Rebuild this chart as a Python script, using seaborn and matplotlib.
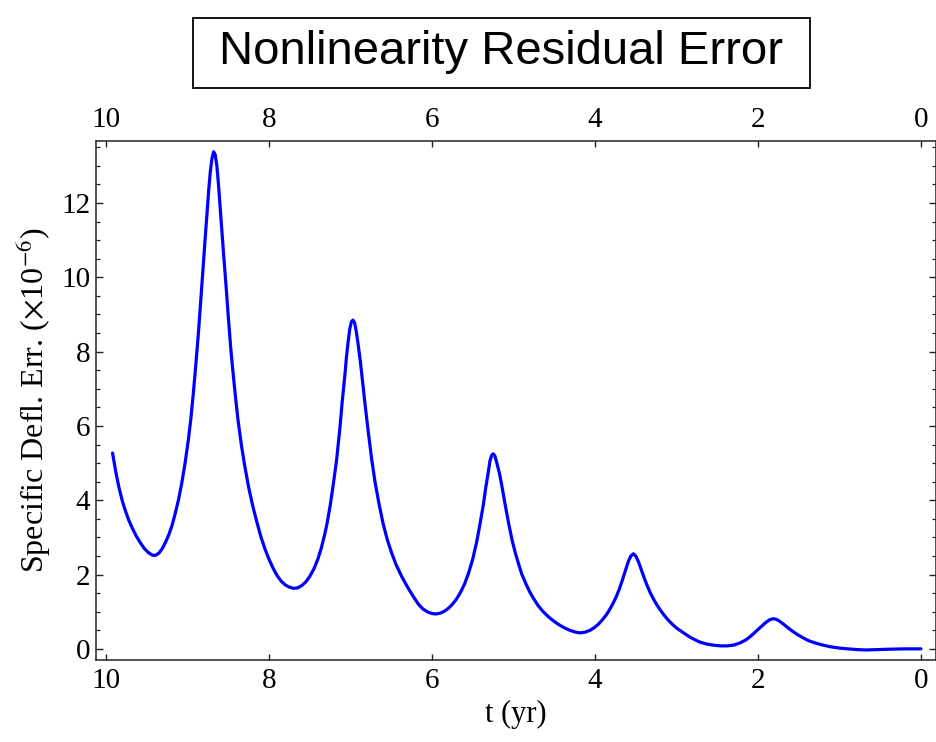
import matplotlib
matplotlib.use("Agg")
import matplotlib.pyplot as plt
import seaborn as sns
import pandas as pd
from matplotlib.ticker import MultipleLocator
from matplotlib.patches import Rectangle

# Data (t in years, error in units of 1e-6)
t_yr = [9.92, 9.88, 9.84, 9.80, 9.76, 9.72, 9.68, 9.63, 9.58, 9.53, 9.48, 9.43,
        9.39, 9.35, 9.31, 9.27, 9.23, 9.19, 9.15, 9.11, 9.07, 9.03, 8.99, 8.96,
        8.93, 8.90, 8.87, 8.84, 8.81, 8.785, 8.76, 8.74, 8.72, 8.70, 8.68, 8.66,
        8.64, 8.62, 8.60, 8.58, 8.56, 8.53, 8.50, 8.47, 8.44, 8.41, 8.38, 8.34,
        8.30, 8.25, 8.20, 8.15, 8.10, 8.05, 8.00, 7.95, 7.90, 7.85, 7.80, 7.75,
        7.70, 7.65, 7.60, 7.55, 7.50, 7.45, 7.40, 7.36, 7.32, 7.29, 7.25, 7.21,
        7.17, 7.13, 7.10, 7.07, 7.05, 7.03, 7.01, 6.99, 6.97, 6.95, 6.93, 6.91,
        6.88, 6.85, 6.82, 6.78, 6.74, 6.70, 6.65, 6.60, 6.55, 6.50, 6.44, 6.37,
        6.30, 6.23, 6.17, 6.11, 6.05, 6.00, 5.95, 5.90, 5.85, 5.80, 5.75, 5.70,
        5.65, 5.60, 5.55, 5.50, 5.45, 5.41, 5.37, 5.34, 5.31, 5.29, 5.27, 5.25,
        5.23, 5.21, 5.19, 5.17, 5.14, 5.10, 5.06, 5.02, 4.98, 4.94, 4.90, 4.85,
        4.80, 4.75, 4.70, 4.64, 4.58, 4.52, 4.45, 4.38, 4.31, 4.24, 4.18, 4.12,
        4.06, 4.01, 3.96, 3.91, 3.86, 3.82, 3.78, 3.74, 3.70, 3.66, 3.62, 3.59,
        3.56, 3.53, 3.50, 3.47, 3.44, 3.40, 3.36, 3.32, 3.28, 3.24, 3.20, 3.15,
        3.10, 3.05, 3.00, 2.94, 2.88, 2.83, 2.77, 2.71, 2.63, 2.55, 2.46, 2.38,
        2.30, 2.22, 2.15, 2.09, 2.03, 1.97, 1.91, 1.86, 1.82, 1.78, 1.74, 1.69,
        1.64, 1.58, 1.52, 1.45, 1.38, 1.30, 1.22, 1.12, 1.00, 0.90, 0.78, 0.67,
        0.55, 0.40, 0.20, 0.00]
err = [5.27, 4.76, 4.33, 3.98, 3.70, 3.46, 3.26, 3.04, 2.86, 2.70, 2.59, 2.52,
       2.52, 2.58, 2.70, 2.87, 3.07, 3.32, 3.65, 4.02, 4.47, 5.00, 5.62, 6.18,
       6.85, 7.60, 8.40, 9.30, 10.25, 11.0, 11.75, 12.35, 12.85, 13.2, 13.38, 13.3,
       13.0, 12.5, 11.9, 11.3, 10.7, 9.85, 8.95, 8.10, 7.40, 6.75, 6.15, 5.50,
       4.95, 4.35, 3.85, 3.42, 3.02, 2.69, 2.41, 2.17, 1.97, 1.82, 1.72, 1.66,
       1.63, 1.64, 1.70, 1.80, 1.95, 2.15, 2.42, 2.70, 3.05, 3.35, 3.85, 4.45,
       5.10, 5.95, 6.70, 7.35, 7.85, 8.25, 8.60, 8.80, 8.85, 8.78, 8.55, 8.25,
       7.75, 7.15, 6.55, 5.80, 5.10, 4.50, 3.90, 3.37, 2.95, 2.61, 2.26, 1.94,
       1.66, 1.41, 1.21, 1.07, 0.99, 0.95, 0.94, 0.96, 1.01, 1.09, 1.20, 1.34,
       1.52, 1.75, 2.05, 2.42, 2.90, 3.38, 3.88, 4.35, 4.75, 5.05, 5.20, 5.25,
       5.20, 5.05, 4.88, 4.70, 4.35, 3.85, 3.38, 2.95, 2.60, 2.30, 2.02, 1.76,
       1.53, 1.34, 1.17, 1.01, 0.88, 0.77, 0.66, 0.57, 0.50, 0.45, 0.43, 0.45,
       0.50, 0.57, 0.66, 0.78, 0.92, 1.06, 1.22, 1.40, 1.62, 1.88, 2.16, 2.36,
       2.50, 2.56, 2.50, 2.36, 2.18, 1.93, 1.70, 1.50, 1.33, 1.18, 1.05, 0.90,
       0.77, 0.66, 0.56, 0.47, 0.38, 0.31, 0.24, 0.18, 0.13, 0.10, 0.08, 0.08,
       0.10, 0.16, 0.24, 0.34, 0.46, 0.58, 0.70, 0.78, 0.81, 0.80, 0.75, 0.67,
       0.58, 0.48, 0.39, 0.30, 0.22, 0.16, 0.11, 0.06, 0.02, 0.00, -0.02, -0.03,
       -0.02, -0.01, 0.00, 0.00]

x_ticks = [10, 8, 6, 4, 2, 0]
y_ticks = [0, 2, 4, 6, 8, 10, 12]
title_text = "Nonlinearity Residual Error"
x_label = "t (yr)"
y_label = r"Specific Defl. Err. ($\times$10$^{-6}$)"

sns.set_theme(style="ticks")
plt.rcParams['font.family'] = ['Liberation Serif', 'DejaVu Serif']
plt.rcParams['mathtext.fontset'] = 'stix'
plt.rcParams['text.color'] = 'black'
plt.rcParams['axes.labelcolor'] = 'black'
plt.rcParams['xtick.labelcolor'] = 'black'
plt.rcParams['ytick.labelcolor'] = 'black'

df = pd.DataFrame({"t": t_yr, "err": err})

fig = plt.figure(figsize=(9.37, 7.42), dpi=100)
ax = fig.add_axes([96/937, 1-660/742, (936-96)/937, (660-141)/742])

sns.lineplot(data=df, x="t", y="err", sort=False, estimator=None,
             color="#0000ff", linewidth=2.3, ax=ax)

ax.set_xlim(10.123, -0.184)
ax.set_ylim(-0.30, 13.67)
ax.set_xticks(x_ticks)
ax.set_xticklabels([str(v) for v in x_ticks])
ax.set_yticks(y_ticks)
ax.set_yticklabels([str(v) for v in y_ticks])
ax.yaxis.set_minor_locator(MultipleLocator(0.5))

for s in ax.spines.values():
    s.set_visible(True)
    s.set_linewidth(1.1)
    s.set_color("#222222")

ax.tick_params(axis='x', which='major', direction='in', length=4.5, width=1.0,
               top=True, bottom=True, labeltop=True, labelbottom=True,
               labelsize=21, pad=6, color="#222222", labelcolor='black')
ax.tick_params(axis='y', which='major', direction='in', length=5, width=1.0,
               left=True, right=True, labelleft=True, labelright=False,
               labelsize=21, pad=4, color="#222222", labelcolor='black')
ax.tick_params(axis='y', which='minor', direction='in', length=3.2, width=0.9,
               left=True, right=True, color="#222222")

ax.set_xlabel(x_label, fontsize=22, labelpad=4, color='black')
ax.set_ylabel(y_label, fontsize=23, labelpad=6, color='black')

fig.patches.append(Rectangle((193/937, 1-88/742), 617/937, 70/742,
                             transform=fig.transFigure, facecolor='white',
                             edgecolor='black', linewidth=1.3, zorder=1))
fig.text(501/937, 1-52/742, title_text, ha='center', va='center',
         fontsize=34, color='black', family=['Liberation Sans', 'DejaVu Sans'],
         zorder=2)

fig.savefig("out.png", dpi=100)
